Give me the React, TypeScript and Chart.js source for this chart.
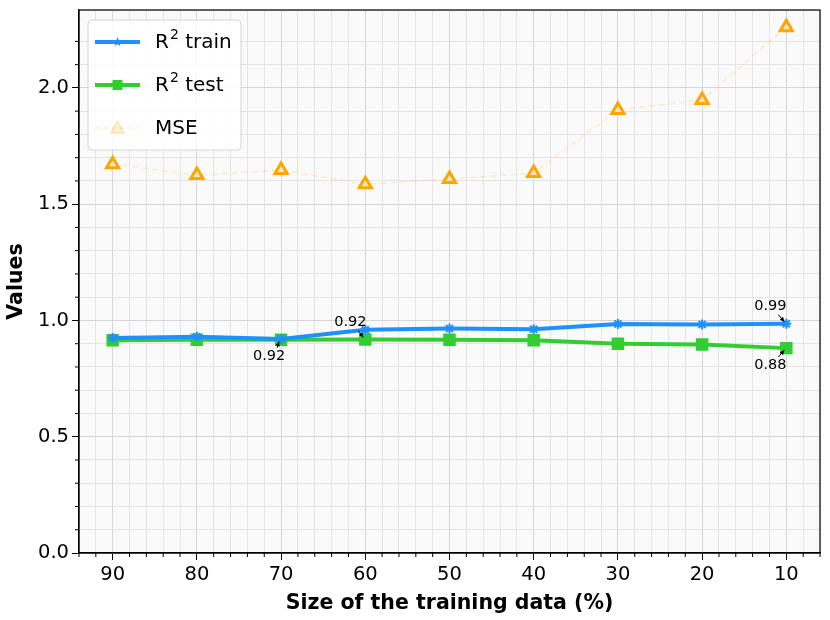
import { useEffect, useRef } from 'react';
import { Chart, registerables, Plugin } from 'chart.js';

Chart.register(...registerables);

// training data size (%), read left to right
const trainSizes = [90, 80, 70, 60, 50, 40, 30, 20, 10];
const r2Train = [0.925, 0.93, 0.92, 0.96, 0.965, 0.962, 0.985, 0.983, 0.986];
const r2Test = [0.915, 0.917, 0.917, 0.918, 0.917, 0.915, 0.9, 0.897, 0.881];
const mse = [1.672, 1.625, 1.647, 1.586, 1.608, 1.634, 1.905, 1.948, 2.261];

// annotated points
const notes: { series: 'train' | 'test'; idx: number; text: string; dx: number; dy: number }[] = [
  { series: 'test', idx: 2, text: '0.92', dx: -12, dy: 16 },
  { series: 'test', idx: 3, text: '0.92', dx: -15, dy: -17 },
  { series: 'train', idx: 8, text: '0.99', dx: -16, dy: -17 },
  { series: 'test', idx: 8, text: '0.88', dx: -16, dy: 17 },
];

const FONT = '"DejaVu Sans", sans-serif';

const isMajor = (v: number, step: number) => Math.abs(v / step - Math.round(v / step)) < 1e-6;

const frame: Plugin<'line'> = {
  id: 'frame',
  beforeDraw(chart) {
    const { ctx, chartArea: a } = chart;
    ctx.save();
    ctx.fillStyle = '#fafafa';
    ctx.fillRect(a.left, a.top, a.right - a.left, a.bottom - a.top);
    ctx.restore();
  },
  afterDraw(chart) {
    const { ctx, chartArea: a } = chart;
    const xs = chart.scales.x;
    const ys = chart.scales.y;
    ctx.save();
    ctx.strokeStyle = '#000';
    ctx.lineWidth = 1.2;
    ctx.strokeRect(a.left, a.top, a.right - a.left, a.bottom - a.top);

    // short minor ticks
    ctx.lineWidth = 1;
    ctx.beginPath();
    for (const t of xs.ticks) {
      if (isMajor(t.value, 10)) continue;
      const px = xs.getPixelForValue(t.value);
      ctx.moveTo(px, a.bottom);
      ctx.lineTo(px, a.bottom + 4);
    }
    for (const t of ys.ticks) {
      if (isMajor(t.value, 0.5) || t.value > 2.31) continue;
      const py = ys.getPixelForValue(t.value);
      ctx.moveTo(a.left, py);
      ctx.lineTo(a.left - 4, py);
    }
    ctx.stroke();

    // annotations with small arrows
    ctx.font = `14.5px ${FONT}`;
    ctx.fillStyle = '#000';
    ctx.textAlign = 'center';
    ctx.textBaseline = 'middle';
    for (const n of notes) {
      const v = n.series === 'train' ? r2Train[n.idx] : r2Test[n.idx];
      const px = xs.getPixelForValue(trainSizes[n.idx]);
      const py = ys.getPixelForValue(v);
      const tx = px + n.dx;
      const ty = py + n.dy;
      ctx.fillText(n.text, tx, ty);
      const sx = tx + 8;
      const sy = ty + (n.dy > 0 ? -8 : 8);
      const ex = px - 2;
      const ey = py + (n.dy > 0 ? 2 : -2);
      ctx.strokeStyle = '#000';
      ctx.lineWidth = 1;
      ctx.beginPath();
      ctx.moveTo(sx, sy);
      ctx.lineTo(ex, ey);
      ctx.stroke();
      const ang = Math.atan2(ey - sy, ex - sx);
      ctx.beginPath();
      ctx.moveTo(ex, ey);
      ctx.lineTo(ex - 5 * Math.cos(ang - 0.45), ey - 5 * Math.sin(ang - 0.45));
      ctx.lineTo(ex - 5 * Math.cos(ang + 0.45), ey - 5 * Math.sin(ang + 0.45));
      ctx.closePath();
      ctx.fill();
    }

    // legend box inside the plot
    const bx = a.left + 9;
    const by = a.top + 10;
    const bw = 153;
    const bh = 130;
    ctx.fillStyle = 'rgba(255,255,255,0.85)';
    ctx.strokeStyle = '#d4d4d4';
    ctx.lineWidth = 1;
    ctx.beginPath();
    ctx.roundRect(bx, by, bw, bh, 4);
    ctx.fill();
    ctx.stroke();

    const rows = [
      { pre: 'R', sup: '2', rest: ' train', color: '#1e90ff', width: 4, dash: [] as number[], marker: 'star' },
      { pre: 'R', sup: '2', rest: ' test', color: '#32cd32', width: 4, dash: [] as number[], marker: 'rect' },
      { pre: 'MSE', sup: '', rest: '', color: 'rgba(255,165,0,0.18)', width: 1.5, dash: [5, 3], marker: 'tri' },
    ];
    rows.forEach((r, i) => {
      const y = by + 22 + i * 43;
      const x0 = bx + 7;
      const x1 = bx + 52;
      ctx.strokeStyle = r.color;
      ctx.lineWidth = r.width;
      ctx.setLineDash(r.dash);
      ctx.beginPath();
      ctx.moveTo(x0, y);
      ctx.lineTo(x1, y);
      ctx.stroke();
      ctx.setLineDash([]);
      const cx = (x0 + x1) / 2;
      ctx.fillStyle = r.color;
      if (r.marker === 'rect') {
        ctx.fillRect(cx - 5, y - 5, 10, 10);
      } else if (r.marker === 'star') {
        ctx.beginPath();
        for (let k = 0; k < 10; k++) {
          const rad = k % 2 === 0 ? 5 : 2.2;
          const ang = -Math.PI / 2 + (k * Math.PI) / 5;
          const qx = cx + rad * Math.cos(ang);
          const qy = y + rad * Math.sin(ang);
          if (k === 0) ctx.moveTo(qx, qy);
          else ctx.lineTo(qx, qy);
        }
        ctx.closePath();
        ctx.fill();
      } else {
        ctx.fillStyle = 'rgba(255,165,0,0.15)';
        ctx.strokeStyle = 'rgba(255,165,0,0.25)';
        ctx.lineWidth = 1.5;
        ctx.beginPath();
        ctx.moveTo(cx, y - 7);
        ctx.lineTo(cx + 6.5, y + 5);
        ctx.lineTo(cx - 6.5, y + 5);
        ctx.closePath();
        ctx.fill();
        ctx.stroke();
      }
      ctx.fillStyle = '#000';
      ctx.textAlign = 'left';
      ctx.textBaseline = 'middle';
      let tx = bx + 67;
      ctx.font = `20px ${FONT}`;
      ctx.fillText(r.pre, tx, y + 1);
      tx += ctx.measureText(r.pre).width + 1;
      if (r.sup) {
        ctx.font = `14px ${FONT}`;
        ctx.fillText(r.sup, tx, y - 7);
        tx += ctx.measureText(r.sup).width;
        ctx.font = `20px ${FONT}`;
        ctx.fillText(r.rest, tx, y + 1);
      }
    });
    ctx.restore();
  },
};

export default function App(): React.JSX.Element {
  const canvasRef = useRef<HTMLCanvasElement>(null);
  const chartRef = useRef<Chart<'line'> | null>(null);

  useEffect(() => {
    if (!canvasRef.current) return;
    chartRef.current?.destroy();

    chartRef.current = new Chart(canvasRef.current, {
      type: 'line',
      data: {
        datasets: [
          {
            label: 'R² train',
            data: trainSizes.map((x, i) => ({ x, y: r2Train[i] })),
            borderColor: '#1e90ff',
            backgroundColor: '#1e90ff',
            borderWidth: 4,
            pointStyle: 'star',
            pointRadius: 5,
            pointBorderWidth: 2,
            tension: 0,
          },
          {
            label: 'R² test',
            data: trainSizes.map((x, i) => ({ x, y: r2Test[i] })),
            borderColor: '#32cd32',
            backgroundColor: '#32cd32',
            borderWidth: 4,
            pointStyle: 'rect',
            pointRadius: 6,
            tension: 0,
          },
          {
            label: 'MSE',
            data: trainSizes.map((x, i) => ({ x, y: mse[i] })),
            borderColor: 'rgba(255,165,0,0.18)',
            backgroundColor: 'rgba(255,165,0,0.2)',
            borderWidth: 1.5,
            borderDash: [6, 4],
            pointStyle: 'triangle',
            pointRadius: 7,
            pointBorderWidth: 3,
            pointBorderColor: '#ffa500',
            pointBackgroundColor: 'rgba(255,230,190,0.6)',
            tension: 0,
          },
        ],
      },
      options: {
        animation: false,
        responsive: false,
        maintainAspectRatio: false,
        layout: { padding: { top: 10, right: 10, left: 0, bottom: 0 } },
        plugins: {
          legend: { display: false },
          tooltip: { enabled: false },
        },
        scales: {
          x: {
            type: 'linear',
            reverse: true,
            min: 6,
            max: 94,
            afterFit: (s) => {
              s.height = 67;
              s.paddingLeft = 0;
              s.paddingRight = 0;
            },
            ticks: {
              stepSize: 2,
              autoSkip: false,
              maxRotation: 0,
              color: '#000',
              font: { family: FONT, size: 19.5 },
              padding: 3,
              callback: (v) => (isMajor(Number(v), 10) ? String(v) : ''),
            },
            grid: {
              color: (c) => (isMajor(Number(c.tick?.value), 10) ? '#d6d6d6' : '#e4e4e4'),
              lineWidth: 1,
              tickColor: (c) => (isMajor(Number(c.tick?.value), 10) ? '#000' : 'transparent'),
              tickLength: 7,
            },
            border: { color: '#000', width: 1.2 },
            title: {
              display: true,
              text: 'Size of the training data (%)',
              color: '#000',
              font: { family: FONT, size: 20.5, weight: 'bold' },
              padding: { top: 2 },
            },
          },
          y: {
            min: 0,
            max: 2.335,
            afterFit: (s) => {
              s.width = 79;
              s.paddingTop = 0;
              s.paddingBottom = 0;
            },
            ticks: {
              stepSize: 0.1,
              autoSkip: false,
              color: '#000',
              font: { family: FONT, size: 19.5 },
              padding: 3,
              callback: (v) => {
                const n = Number(v);
                if (n > 2.31) return '';
                return isMajor(n, 0.5) ? n.toFixed(1) : '';
              },
            },
            grid: {
              color: (c) => (isMajor(Number(c.tick?.value), 0.5) ? '#d6d6d6' : '#e4e4e4'),
              lineWidth: 1,
              tickColor: (c) => (isMajor(Number(c.tick?.value), 0.5) ? '#000' : 'transparent'),
              tickLength: 7,
            },
            border: { color: '#000', width: 1.2 },
            title: {
              display: true,
              text: 'Values',
              color: '#000',
              font: { family: FONT, size: 20.5, weight: 'bold' },
              padding: { bottom: 2 },
            },
          },
        },
      },
      plugins: [frame],
    });

    return () => {
      chartRef.current?.destroy();
      chartRef.current = null;
    };
  }, []);

  return (
    <div style={{ position: 'absolute', left: 0, top: 0, width: 830, height: 620, background: '#fff' }}>
      <canvas ref={canvasRef} width={830} height={620} style={{ width: 830, height: 620 }} />
    </div>
  );
}
